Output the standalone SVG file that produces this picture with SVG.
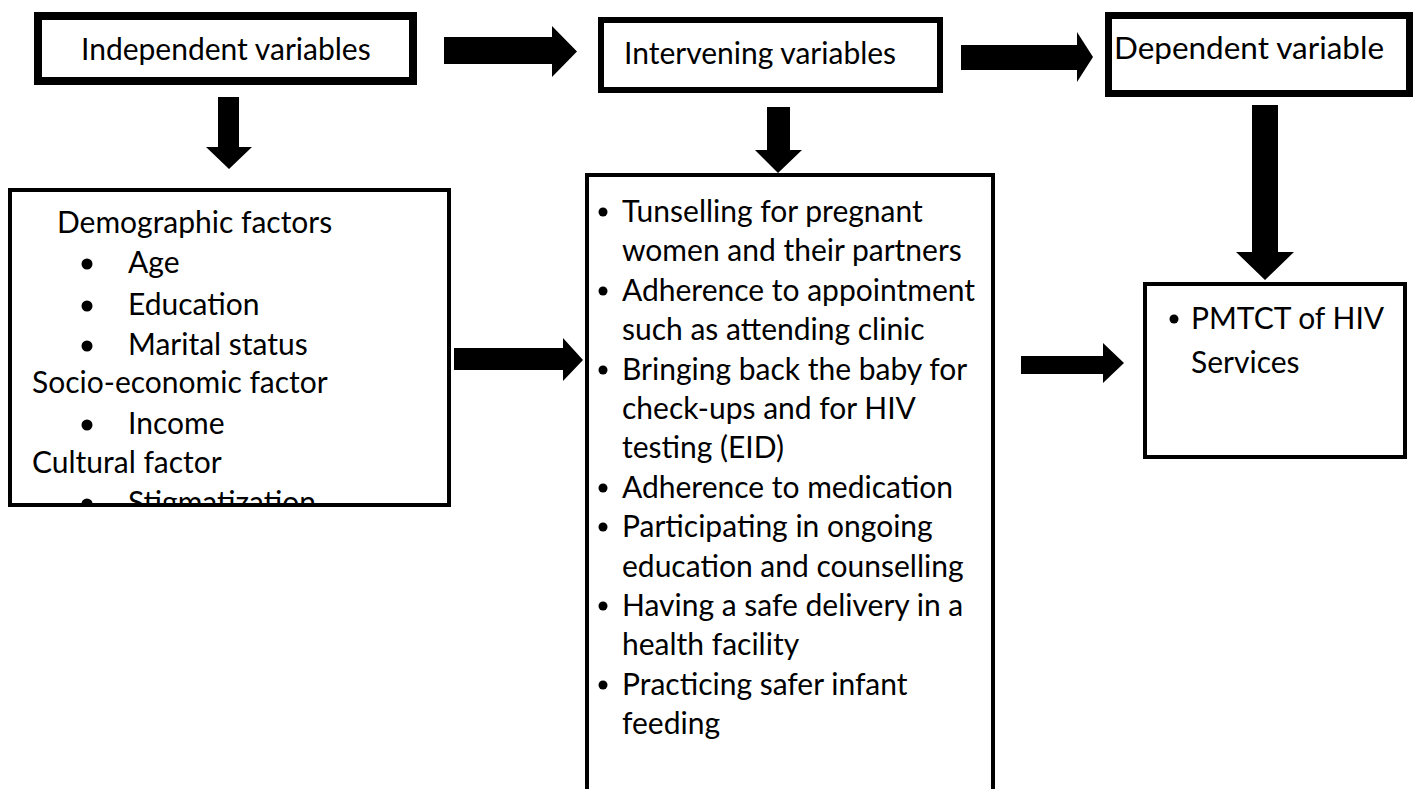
<svg xmlns="http://www.w3.org/2000/svg" width="1415" height="789" viewBox="0 0 1415 789">
<defs>
<style>
.t{font-family:Lato,"Liberation Sans",sans-serif;font-size:30px;fill:#000}
.thick{fill:#fff;stroke:#000;stroke-width:7}
.thin{fill:#fff;stroke:#000;stroke-width:4}
.arr{fill:#000}
.b{fill:#000}
</style>
<clipPath id="demoClip"><rect x="12" y="192" width="435" height="311"/></clipPath>
</defs>
<g id="connectors">
<polygon class="arr" points="444,37 552,37 552,26 577,51.5 552,77 552,64 444,64"/>
<polygon class="arr" points="961,45 1077,45 1077,32 1093,57 1077,82 1077,70 961,70"/>
<polygon class="arr" points="218,97 239,97 239,147 252,147 229,169 206,147 218,147"/>
<polygon class="arr" points="767,107 790,107 790,150 802,150 778,173 755,150 767,150"/>
<polygon class="arr" points="1252,105 1278,105 1278,252 1294,252 1265,280 1236,252 1252,252"/>
<polygon class="arr" points="454,348 563,348 563,338 583,360 563,381 563,370 454,370"/>
<polygon class="arr" points="1021,356 1103,356 1103,343 1124,363 1103,383 1103,374 1021,374"/>
</g>
<g id="independent">
<rect class="thick" x="38" y="16" width="375" height="65" style="stroke-width:8"/>
<text class="t" x="81" y="60">Independent variables</text>
</g>
<g id="intervening">
<rect class="thick" x="601" y="20" width="339" height="70" style="stroke-width:6"/>
<text class="t" x="624" y="64">Intervening variables</text>
</g>
<g id="dependent">
<rect class="thick" x="1108.5" y="15.5" width="301" height="78"/>
<text class="t" x="1114" y="59" textLength="270" lengthAdjust="spacingAndGlyphs" style="font-size:31px">Dependent variable</text>
</g>
<g id="demographic">
<rect class="thin" x="10" y="190" width="439" height="315"/>
<g clip-path="url(#demoClip)">
<text class="t" x="57" y="233">Demographic factors</text>
<circle class="b" cx="87" cy="264" r="5.5"/><text class="t" x="128" y="273">Age</text>
<circle class="b" cx="87" cy="306" r="5.5"/><text class="t" x="128" y="315">Education</text>
<circle class="b" cx="87" cy="346" r="5.5"/><text class="t" x="128" y="355">Marital status</text>
<text class="t" x="32" y="393">Socio-economic factor</text>
<circle class="b" cx="87" cy="425" r="5.5"/><text class="t" x="128" y="434">Income</text>
<text class="t" x="32" y="473">Cultural factor</text>
<circle class="b" cx="87" cy="504" r="5.5"/><text class="t" x="128" y="513">Stigmatization</text>
</g>
</g>
<g id="intervening-list">
<path d="M587,795 V175 H993 V795" fill="#fff" stroke="#000" stroke-width="4"/>
<circle class="b" cx="603" cy="212" r="4.5"/><text class="t" x="622" y="222">Tunselling for pregnant</text>
<text class="t" x="622" y="261">women and their partners</text>
<circle class="b" cx="603" cy="291" r="4.5"/><text class="t" x="622" y="301">Adherence to appointment</text>
<text class="t" x="622" y="340">such as attending clinic</text>
<circle class="b" cx="603" cy="370" r="4.5"/><text class="t" x="622" y="380">Bringing back the baby for</text>
<text class="t" x="622" y="419">check-ups and for HIV</text>
<text class="t" x="622" y="458">testing (EID)</text>
<circle class="b" cx="603" cy="488" r="4.5"/><text class="t" x="622" y="498">Adherence to medication</text>
<circle class="b" cx="603" cy="527" r="4.5"/><text class="t" x="622" y="537">Participating in ongoing</text>
<text class="t" x="622" y="577">education and counselling</text>
<circle class="b" cx="603" cy="606" r="4.5"/><text class="t" x="622" y="616">Having a safe delivery in a</text>
<text class="t" x="622" y="655">health facility</text>
<circle class="b" cx="603" cy="685" r="4.5"/><text class="t" x="622" y="695">Practicing safer infant</text>
<text class="t" x="622" y="734">feeding</text>
</g>
<g id="pmtct">
<rect class="thin" x="1145" y="284" width="260" height="173"/>
<circle class="b" cx="1174" cy="319" r="4.5"/><text class="t" x="1191" y="329">PMTCT of HIV</text>
<text class="t" x="1191" y="373">Services</text>
</g>
</svg>
